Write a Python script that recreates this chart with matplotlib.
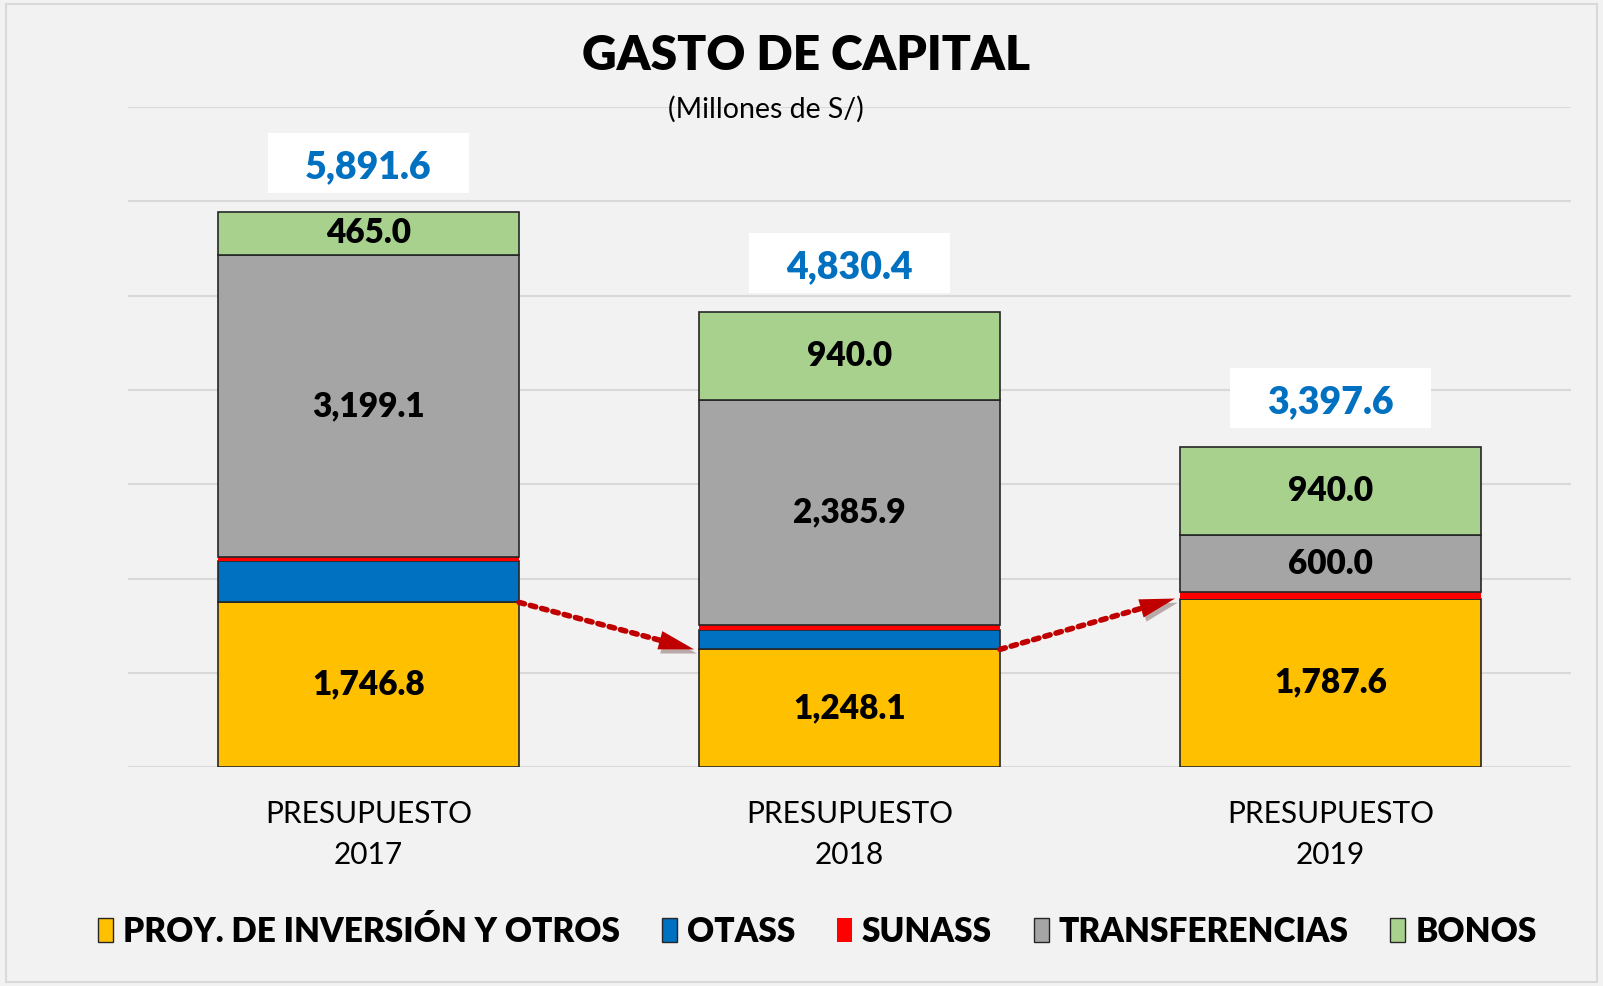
import numpy as np
import matplotlib
matplotlib.use("Agg")
import matplotlib.pyplot as plt
from matplotlib.patches import Patch, Rectangle
import matplotlib.patheffects as pe

## DATA ##
years = ["PRESUPUESTO\n2017", "PRESUPUESTO\n2018", "PRESUPUESTO\n2019"]
proy = [1746.8, 1248.1, 1787.6]
otass = [440.0, 206.4, 0.0]
sunass = [40.7, 50.0, 70.0]
transferencias = [3199.1, 2385.9, 600.0]
bonos = [465.0, 940.0, 940.0]
totals = [5891.6, 4830.4, 3397.6]

series_names = ["PROY. DE INVERSIÓN Y OTROS", "OTASS", "SUNASS", "TRANSFERENCIAS", "BONOS"]
series_vals = [proy, otass, sunass, transferencias, bonos]
series_colors = ["#FFC000", "#0070C0", "#FF0000", "#A5A5A5", "#A9D18E"]
show_labels = [True, False, False, True, True]

plt.rcParams["font.family"] = ["Lato", "DejaVu Sans"]
BG = "#F2F2F2"

fig = plt.figure(figsize=(16.03, 9.86), dpi=100, facecolor=BG)
ax = fig.add_axes([0.0799, 0.222, 0.900, 0.6695])
ax.set_facecolor(BG)

x = np.arange(len(years))
width = 0.626
bottom = np.zeros(len(years))
for name, vals, color, lab in zip(series_names, series_vals, series_colors, show_labels):
    vals = np.array(vals)
    edge = "none" if name == "SUNASS" else "#262626"
    ax.bar(x, vals, width, bottom=bottom, color=color, edgecolor=edge,
           linewidth=1.2, zorder=3)
    if lab:
        for xi, b, v in zip(x, bottom, vals):
            ax.text(xi, b + v / 2, f"{v:,.1f}", ha="center", va="center",
                    fontsize=24, fontweight="heavy", color="black", zorder=5)
    bottom += vals

# total labels in white boxes
for xi, t in zip(x, totals):
    ax.add_patch(Rectangle((xi - 0.209, t + 200), 0.418, 630,
                           facecolor="white", edgecolor="none", zorder=4))
    ax.text(xi, t + 470, f"{t:,.1f}", ha="center", va="center",
            fontsize=27, fontweight="heavy", color="#0070C0", zorder=5)

# dotted arrows between PROY tops
shadow = [pe.SimplePatchShadow(offset=(2, -3), alpha=0.3), pe.Normal()]
for i in range(len(years) - 1):
    x0, y0 = x[i] + width / 2, proy[i]
    x1, y1 = x[i + 1] - width / 2 - 0.01, proy[i + 1]
    ax.annotate("", xy=(x1, y1), xytext=(x0, y0),
                arrowprops=dict(arrowstyle="-", color="#C00000", lw=4,
                                linestyle=(0, (1, 1.1)), shrinkA=0, shrinkB=12,
                                path_effects=shadow), zorder=6)
    f = 0.9
    ax.annotate("", xy=(x1, y1), xytext=(x0 + f * (x1 - x0), y0 + f * (y1 - y0)),
                arrowprops=dict(arrowstyle="-|>,head_length=1.5,head_width=0.4",
                                mutation_scale=17, color="#C00000", lw=0,
                                shrinkA=0, shrinkB=0, path_effects=shadow),
                zorder=6)

ax.set_xlim(-0.5, 2.5)
ax.set_ylim(0, 7000)
ax.set_yticks(np.arange(0, 7001, 1000))
ax.yaxis.grid(True, color="#D9D9D9", linewidth=1.5, zorder=0)
ax.set_yticklabels([])
ax.tick_params(axis="y", length=0)
ax.tick_params(axis="x", length=0, pad=24)
ax.set_xticks(x)
ax.set_xticklabels(years, fontsize=21.5, linespacing=1.55)
for s in ax.spines.values():
    s.set_visible(False)

fig.text(0.503, 0.943, "GASTO DE CAPITAL", ha="center", va="center",
         fontsize=34.5, fontweight="heavy")
fig.text(0.478, 0.889, "(Millones de S/)", ha="center", va="center", fontsize=20.5)

handles = [Patch(facecolor=c, edgecolor=("none" if n == "SUNASS" else "#262626"),
                 linewidth=1) for n, c in zip(series_names, series_colors)]
fig.legend(handles, series_names, loc="center", bbox_to_anchor=(0.51, 0.055),
           ncol=5, frameon=False, prop=dict(size=24, weight="heavy"),
           handlelength=0.45, handleheight=0.7, handletextpad=0.3,
           columnspacing=1.25)

fig.patches.append(Rectangle((6 / 1603, 4 / 986), 1 - 12 / 1603, 1 - 8 / 986,
                             transform=fig.transFigure, fill=False,
                             edgecolor="#D9D9D9", linewidth=1.5))

fig.savefig("out.png", dpi=100, facecolor=BG)
